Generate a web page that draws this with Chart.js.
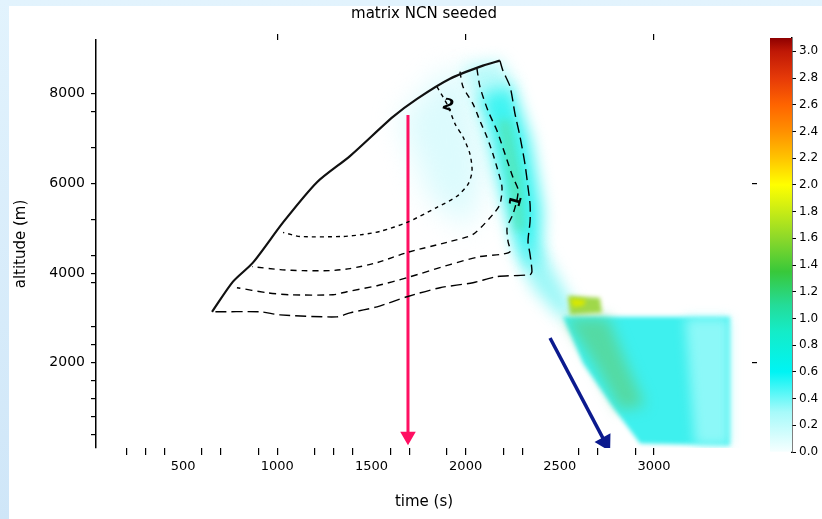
<!DOCTYPE html>
<html>
<head>
<meta charset="utf-8">
<script src="https://cdn.jsdelivr.net/npm/chart.js@4.4.1/dist/chart.umd.min.js"></script>
<style>
html, body { margin: 0; padding: 0; }
body { width: 822px; height: 519px; overflow: hidden; position: relative;
       background: linear-gradient(180deg, #e2f3fd 0%, #cfe6f8 100%); }
#panel { position: absolute; left: 9px; top: 6px; right: 0; bottom: 0; background: #fff; }
#main { position: absolute; left: 0; top: 0; }
#cbar { position: absolute; left: 760px; top: 0; }
</style>
</head>
<body>
<div id="panel"></div>
<canvas id="main" width="822" height="519"></canvas>
<canvas id="cbar" width="62" height="519"></canvas>
<script>
// contour lines, time (s) / altitude (m)
let edgeTime = [654, 765, 871, 1031, 1211, 1386, 1614, 1742, 1917, 2092, 2182];
let edgeAlt  = [3137, 3810, 4235, 5132, 6028, 6611, 7485, 7888, 8337, 8628, 8740];

let outerTime = [2182, 2198, 2236, 2262, 2289, 2315, 2331, 2342, 2342, 2331, 2342, 2352, 2342, 2167, 2039, 1864, 1689, 1530, 1386, 1317, 1015, 909, 654];
let outerAlt  = [8740, 8516, 8157, 7552, 7037, 6432, 5916, 5535, 5154, 4706, 4415, 4034, 3967, 3922, 3787, 3675, 3474, 3249, 3115, 3025, 3070, 3137, 3137];

let c2Time = [1848, 1906, 1944, 1986, 2023, 2034, 2013, 1954, 1848, 1689, 1545, 1455, 1349, 1121, 1031];
let c2Alt  = [8157, 7731, 7328, 7037, 6656, 6275, 5983, 5715, 5468, 5132, 4930, 4863, 4818, 4818, 4908];

let cATime = [1970, 1986, 2039, 2076, 2113, 2145, 2172, 2193, 2182, 2145, 2039, 1917, 1689, 1530, 1386, 1280, 1137, 1015, 866];
let cAAlt  = [8493, 8157, 7776, 7395, 7037, 6656, 6275, 5916, 5535, 5311, 4863, 4706, 4460, 4235, 4101, 4056, 4056, 4079, 4146];

let c1Time = [2060, 2076, 2119, 2167, 2209, 2251, 2278, 2273, 2251, 2220, 2225, 2236, 2182, 2076, 1917, 1689, 1530, 1370, 1296, 1068, 946, 786];
let c1Alt  = [8561, 8157, 7619, 7171, 6656, 6140, 5871, 5647, 5311, 5020, 4706, 4482, 4415, 4370, 4191, 3899, 3720, 3586, 3518, 3518, 3563, 3675];

let contourLabels = ['2', '1'];
let contourLabelTime = [1906, 2270];
let contourLabelAlt = [7731, 5600];

// coloured field (same units)
let hazeTime = [1652, 1864, 2023, 2103, 2023, 1811];
let hazeAlt  = [7440, 8449, 8449, 6320, 4975, 5647];
let plumeTopTime = [1981, 2182, 2262, 2182, 2066];
let plumeTopAlt  = [8619, 8752, 8195, 7860, 7860];
let plumeTime = [2066, 2246, 2342, 2405, 2395, 2331, 2262, 2193, 2129];
let plumeAlt  = [7972, 8195, 6968, 5407, 4248, 4025, 4627, 5742, 6968];
let coreTime = [2172, 2236, 2299, 2315, 2262, 2225];
let coreAlt  = [7414, 7414, 6076, 4961, 4917, 6076];
let streakTime = [2289, 2421, 2596, 2501, 2342];
let streakAlt  = [4751, 4415, 3070, 3003, 3742];
let blockTime = [2517, 3403, 3403, 2926, 2782, 2623];
let blockAlt  = [3025, 3025, 157, 202, 1008, 1994];
let bandTime = [2527, 2756, 2846, 2952, 2819, 2687];
let bandAlt  = [3003, 3003, 2062, 1053, 941, 1950];
let paleTime = [3164, 3403, 3403, 3218];
let paleAlt  = [3003, 3003, 157, 157];
let patchTime = [2543, 2713, 2724, 2554];
let patchAlt  = [3496, 3451, 3115, 3070];
let patchCoreTime = [2555, 2640, 2625, 2570];
let patchCoreAlt  = [3440, 3400, 3270, 3240];

// arrows
let dropTime = [1694, 1694];
let dropAlt  = [7527, 360];
let slideTime = [2448, 2740];
let slideAlt  = [2553, 230];

// ticks
let xLabelTicks = [500, 1000, 1500, 2000, 2500, 3000];
let xMarkTicks = [200, 300, 400, 600, 700, 900, 1000, 1200, 1300, 1400, 1600, 1700, 1900, 2000, 2200, 2300, 2600, 2700, 2900, 3000];
let xTopTicks = [1000, 2000, 3000];
let yTicks = [400, 800, 1200, 1600, 2000, 2400, 2800, 3800, 4000, 4400, 5200, 6000, 6800, 7600, 8000];
let yRightTicks = [2000, 6000];

// colour bar
let cbTicks = [0, 0.2, 0.4, 0.6, 0.8, 1.0, 1.2, 1.4, 1.6, 1.8, 2.0, 2.2, 2.4, 2.6, 2.8, 3.0];
let cbMax = 3.1;
let cbStopValues = [0, 0.3, 0.6, 0.9, 1.1, 1.35, 1.6, 1.85, 2.0, 2.2, 2.4, 2.6, 2.8, 3.0, 3.1];
let cbStopColors = ['#f6ffff', '#a6fafa', '#00f4f4', '#14ecc8', '#24dc98', '#38c83a', '#8cd82a', '#d6f010', '#ffff00', '#ffc400', '#ff9000', '#ff6400', '#e63a08', '#bf1806', '#8e0000'];


function pts(times, alts) {
    return times.map((t, i) => ({ x: t, y: alts[i] }));
}

function contour(times, alts, extra) {
    return Object.assign({
        data: pts(times, alts),
        showLine: true,
        borderColor: '#000',
        borderWidth: 1.4,
        pointRadius: 0,
        tension: 0.25,
        fill: false
    }, extra);
}

let fieldShapes = [
    { t: hazeTime, a: hazeAlt, fill: 'rgba(205,250,252,0.7)', blur: 14 },
    { t: plumeTopTime, a: plumeTopAlt, fill: 'rgba(160,248,248,0.75)', blur: 8 },
    { t: plumeTime, a: plumeAlt, fill: '#3ff4f2', blur: 8 },
    { t: coreTime, a: coreAlt, fill: 'rgba(90,226,170,0.7)', blur: 5 },
    { t: streakTime, a: streakAlt, fill: 'rgba(120,244,244,0.75)', blur: 8 },
    { t: blockTime, a: blockAlt, fill: '#3ef0ee', blur: 2 },
    { t: bandTime, a: bandAlt, fill: 'rgba(88,214,150,0.85)', blur: 7 },
    { t: paleTime, a: paleAlt, fill: 'rgba(160,250,250,0.8)', blur: 6 },
    { t: patchTime, a: patchAlt, fill: '#9fd84a', blur: 2 },
    { t: patchCoreTime, a: patchCoreAlt, fill: '#d8e800', blur: 2 }
];

let fieldPlugin = {
    id: 'field',
    beforeDatasetsDraw(chart) {
        let { ctx, chartArea, scales } = chart;
        ctx.save();
        ctx.beginPath();
        ctx.rect(chartArea.left, chartArea.top, chartArea.width, chartArea.height);
        ctx.clip();
        fieldShapes.forEach(s => {
            ctx.filter = 'blur(' + s.blur + 'px)';
            ctx.fillStyle = s.fill;
            ctx.beginPath();
            s.t.forEach((v, i) => {
                let px = scales.x.getPixelForValue(v);
                let py = scales.y.getPixelForValue(s.a[i]);
                if (i) ctx.lineTo(px, py); else ctx.moveTo(px, py);
            });
            ctx.closePath();
            ctx.fill();
        });
        ctx.restore();
    }
};

let labelPlugin = {
    id: 'contourLabels',
    afterDatasetsDraw(chart) {
        let { ctx, scales } = chart;
        ctx.save();
        ctx.fillStyle = '#000';
        ctx.font = 'bold 16px "DejaVu Sans"';
        ctx.textAlign = 'center';
        ctx.textBaseline = 'middle';
        contourLabels.forEach((txt, i) => {
            ctx.save();
            ctx.translate(scales.x.getPixelForValue(contourLabelTime[i]), scales.y.getPixelForValue(contourLabelAlt[i]));
            ctx.rotate(i === 0 ? 0.35 : -1.3);
            ctx.fillText(txt, 0, 0);
            ctx.restore();
        });
        ctx.restore();
    }
};

let font = { family: 'DejaVu Sans', size: 13 };
let xAll = Array.from(new Set(xMarkTicks.concat(xLabelTicks))).sort((a, b) => a - b);

let mainChart = new Chart(document.querySelector('#main'), {
    type: 'scatter',
    data: {
        datasets: [
            contour(edgeTime, edgeAlt, { borderWidth: 2.2, borderColor: '#111' }),
            contour(outerTime, outerAlt, { borderDash: [11, 5] }),
            contour(c1Time, c1Alt, { borderDash: [7, 5] }),
            contour(cATime, cAAlt, { borderDash: [6, 5] }),
            contour(c2Time, c2Alt, { borderDash: [4, 4] }),
            {
                data: pts(dropTime, dropAlt), showLine: true, borderColor: '#ff0f62', backgroundColor: '#ff0f62',
                borderWidth: 3, tension: 0, pointStyle: 'triangle', pointRadius: [0, 6], pointRotation: 180
            },
            {
                data: pts(slideTime, slideAlt), showLine: true, borderColor: '#0b1a8e', backgroundColor: '#0b1a8e',
                borderWidth: 3.5, tension: 0, pointStyle: 'triangle', pointRadius: [0, 7], pointRotation: 151
            }
        ]
    },
    options: {
        responsive: false,
        animation: false,
        layout: { padding: { left: 0, right: 60, top: 0, bottom: 0 } },
        plugins: {
            legend: { display: false },
            tooltip: { enabled: false },
            title: {
                display: true, fullSize: false, text: 'matrix NCN seeded', color: '#000',
                font: { family: 'DejaVu Sans', size: 15, weight: 'normal' },
                padding: { top: 5, bottom: 0 }
            }
        },
        scales: {
            x: {
                type: 'linear', position: 'bottom', min: 38, max: 3520,
                afterBuildTicks: s => { s.ticks = xAll.map(v => ({ value: v })); },
                afterFit: s => { s.height = 71; },
                border: { display: false },
                grid: {
                    drawOnChartArea: false, tickLength: 7, lineWidth: 1.2,
                    color: c => (c.tick && xMarkTicks.includes(c.tick.value)) ? '#000' : 'rgba(0,0,0,0)'
                },
                ticks: {
                    padding: 4, color: '#000', font: font, maxRotation: 0, autoSkip: false,
                    callback: v => xLabelTicks.includes(v) ? String(v) : ''
                },
                title: { display: true, text: 'time (s)', color: '#000', font: { family: 'DejaVu Sans', size: 15 }, padding: { top: 0, bottom: 8 } }
            },
            xTop: {
                type: 'linear', position: 'top', min: 38, max: 3520,
                afterBuildTicks: s => { s.ticks = xTopTicks.map(v => ({ value: v })); },
                afterFit: s => { s.height = 17; },
                border: { display: false },
                grid: { drawOnChartArea: false, tickLength: 6, color: '#000', lineWidth: 1.2 },
                ticks: { display: false }
            },
            y: {
                type: 'linear', position: 'left', min: 100, max: 9200,
                afterBuildTicks: s => { s.ticks = yTicks.map(v => ({ value: v })); },
                afterFit: s => { s.width = 96; },
                border: { display: true, color: '#000', width: 1.5 },
                grid: { drawOnChartArea: false, tickLength: 5, color: '#000', lineWidth: 1.2 },
                ticks: {
                    padding: 6, color: '#000', font: { family: 'DejaVu Sans', size: 14 }, autoSkip: false,
                    callback: v => v % 2000 === 0 ? String(v) : ''
                },
                title: { display: true, text: 'altitude (m)', color: '#000', font: { family: 'DejaVu Sans', size: 15 }, padding: { top: 12, bottom: 0 } }
            },
            yRight: {
                type: 'linear', position: 'right', min: 100, max: 9200,
                afterBuildTicks: s => { s.ticks = yRightTicks.map(v => ({ value: v })); },
                afterFit: s => { s.width = 10; },
                border: { display: false },
                grid: { drawOnChartArea: false, tickLength: 5, color: '#000', lineWidth: 1.2 },
                ticks: { display: false }
            }
        }
    },
    plugins: [fieldPlugin, labelPlugin]
});


function cbGradient(context) {
    let chart = context.chart;
    if (!chart.chartArea) return null;
    let ys = chart.scales.y;
    let g = chart.ctx.createLinearGradient(0, ys.getPixelForValue(0), 0, ys.getPixelForValue(cbMax));
    cbStopValues.forEach((v, i) => g.addColorStop(v / cbMax, cbStopColors[i]));
    return g;
}

let colorBar = new Chart(document.querySelector('#cbar'), {
    type: 'bar',
    data: {
        labels: [''],
        datasets: [{ data: [cbMax], backgroundColor: cbGradient, borderWidth: 0, barPercentage: 1, categoryPercentage: 1 }]
    },
    options: {
        responsive: false,
        animation: false,
        layout: { padding: { left: 10, top: 38, bottom: 67, right: 0 } },
        plugins: { legend: { display: false }, tooltip: { enabled: false } },
        scales: {
            x: { display: false },
            y: {
                position: 'right', min: 0, max: cbMax,
                afterBuildTicks: s => { s.ticks = cbTicks.map(v => ({ value: v })); },
                afterFit: s => { s.width = 30; },
                border: { display: true, color: '#000', width: 1.5 },
                grid: { drawOnChartArea: false, tickLength: 4, color: '#000' },
                ticks: { padding: 3, color: '#000', font: { family: 'DejaVu Sans', size: 12 }, autoSkip: false, callback: v => v.toFixed(1) }
            }
        }
    }
});
</script>
</body>
</html>
